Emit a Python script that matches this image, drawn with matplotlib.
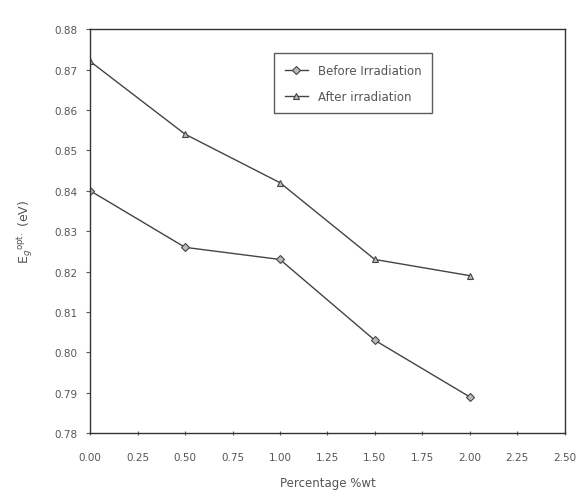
import matplotlib
matplotlib.use("Agg")
import matplotlib.pyplot as plt

# wt% of filler
percentage = [0.0, 0.5, 1.0, 1.5, 2.0]
before_irr = [0.840, 0.826, 0.823, 0.803, 0.789]
after_irr = [0.872, 0.854, 0.842, 0.823, 0.819]

x_ticks = [0.0, 0.25, 0.5, 0.75, 1.0, 1.25, 1.5, 1.75, 2.0, 2.25, 2.5]
y_ticks = [0.78, 0.79, 0.80, 0.81, 0.82, 0.83, 0.84, 0.85, 0.86, 0.87, 0.88]

fig = plt.figure(figsize=(5.82, 5.02), dpi=100)
ax = fig.add_axes([0.155, 0.135, 0.815, 0.805])

ink = "#444444"
ax.plot(percentage, before_irr, color=ink, lw=1.0, marker="D", ms=4,
        mfc="#bbbbbb", mec=ink, mew=0.8, label="Before Irradiation")
ax.plot(percentage, after_irr, color=ink, lw=1.0, marker="^", ms=5,
        mfc="#bbbbbb", mec=ink, mew=0.8, label="After irradiation")

ax.set_xlim(0, 2.5)
ax.set_ylim(0.78, 0.88)
ax.set_xticks(x_ticks)
ax.set_yticks(y_ticks)
ax.set_xticklabels(["%.2f" % t for t in x_ticks])
ax.set_yticklabels(["%.2f" % t for t in y_ticks])
ax.tick_params(axis="both", labelsize=7.5, colors="#555555", length=3, width=0.8)
ax.tick_params(axis="x", direction="inout", pad=12)
ax.tick_params(axis="y", pad=6)
for s in ax.spines.values():
    s.set_color("#333333")
    s.set_linewidth(1.0)

ax.set_xlabel("Percentage %wt", fontsize=8.5, color="#555555", labelpad=10)
ax.set_ylabel(r"E$_g$$^{\rm opt.}$ (eV)", fontsize=9, color="#555555", labelpad=14)

leg = ax.legend(loc="upper left", bbox_to_anchor=(0.375, 0.955), fontsize=8.5,
                frameon=True, fancybox=False, edgecolor="#333333",
                handlelength=2.0, borderpad=0.9, labelspacing=1.1)
for t in leg.get_texts():
    t.set_color("#555555")

fig.savefig("out.png", dpi=100)
